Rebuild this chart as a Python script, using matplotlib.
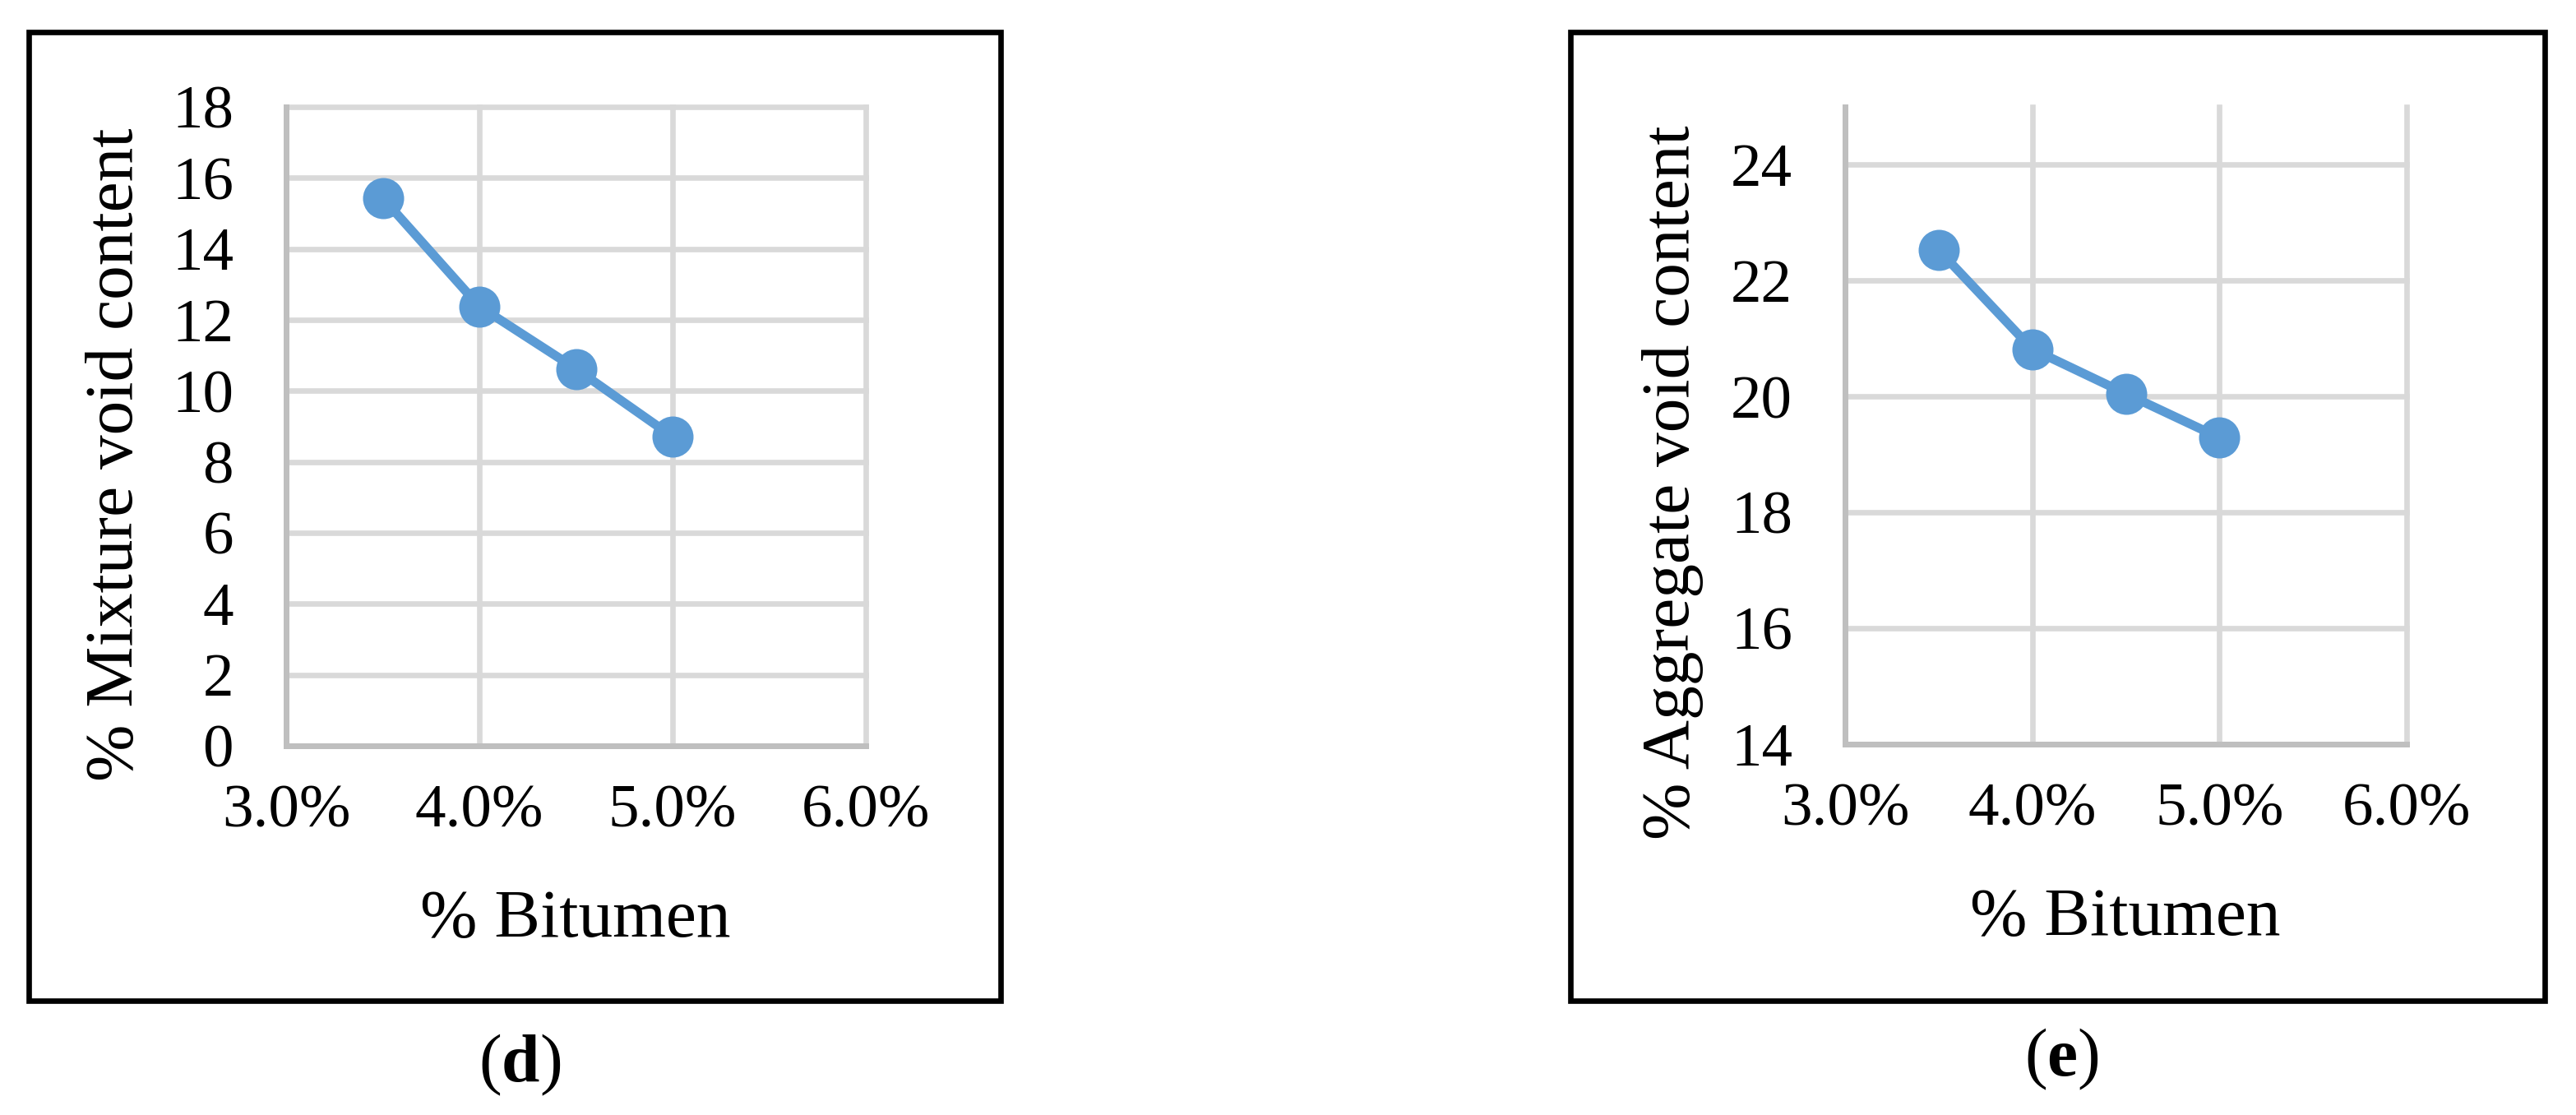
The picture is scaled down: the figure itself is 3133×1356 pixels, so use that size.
import matplotlib.pyplot as plt
from matplotlib.patches import Rectangle
from matplotlib.ticker import PercentFormatter

plt.rcParams['font.family'] = ['Liberation Serif', 'DejaVu Serif']
plt.rcParams['mathtext.fontset'] = 'custom'
plt.rcParams['mathtext.rm'] = 'Liberation Serif'
plt.rcParams['mathtext.bf'] = 'Liberation Serif:bold'

# data
bitumen = [0.035, 0.040, 0.045, 0.050]
mixture_void = [15.43, 12.38, 10.62, 8.71]
aggregate_void = [22.53, 20.82, 20.05, 19.29]

x_ticks = [0.03, 0.04, 0.05, 0.06]
mix_ticks = list(range(0, 19, 2))
agg_ticks = list(range(14, 25, 2))

blue = '#5B9BD5'
grid_c = '#D9D9D9'
axis_c = '#BFBFBF'

W, H = 3133, 1356
fig = plt.figure(figsize=(W / 100, H / 100), dpi=100)


def px_box(x0, y0, x1, y1):
    # pixel coords (top-left origin) -> figure fraction rect
    return [x0 / W, 1 - y1 / H, (x1 - x0) / W, (y1 - y0) / H]


def panel(rect, y, yticks, ylim, ylabel, ylab_xy, xlab_xy, tag, tag_xy, frame):
    ax = fig.add_axes(px_box(*rect))
    ax.plot(bitumen, y, color=blue, lw=8, marker='o', ms=36,
            markeredgewidth=0, solid_capstyle='round', zorder=3)
    ax.set_xlim(0.03, 0.06)
    ax.set_ylim(*ylim)
    ax.set_xticks(x_ticks)
    ax.set_yticks(yticks)
    ax.xaxis.set_major_formatter(PercentFormatter(xmax=1, decimals=1))
    ax.tick_params(length=0, labelsize=54, pad=46)
    ax.tick_params(axis='x', pad=34)
    ax.grid(True, color=grid_c, lw=4.8)
    for gl in ax.get_xgridlines() + ax.get_ygridlines():
        gl.set_clip_on(False)
    ax.set_axisbelow(True)
    for s in ['top', 'right']:
        ax.spines[s].set_visible(False)
    for s in ['left', 'bottom']:
        ax.spines[s].set_color(axis_c)
        ax.spines[s].set_linewidth(5)
        ax.spines[s].set_zorder(2.5)

    fig.text(ylab_xy[0] / W, 1 - ylab_xy[1] / H, ylabel, rotation=90,
             ha='center', va='center', fontsize=60)
    fig.text(xlab_xy[0] / W, 1 - xlab_xy[1] / H, '% Bitumen',
             ha='center', va='baseline', fontsize=60)
    fig.text(tag_xy[0] / W, 1 - tag_xy[1] / H, r'($\mathbf{%s}$)' % tag,
             ha='center', va='center', fontsize=60)

    fx = px_box(*frame)
    fig.patches.append(Rectangle((fx[0], fx[1]), fx[2], fx[3], transform=fig.transFigure,
                                 fill=False, edgecolor='black', lw=4.8))
    return ax


panel((348, 130, 1053, 907), mixture_void, mix_ticks, (0, 18),
      '% Mixture void content', (141, 553), (700, 1139), 'd', (632, 1295),
      (35, 39, 1217, 1217))
panel((2244, 130, 2927, 905), aggregate_void, agg_ticks, (14, 25),
      '% Aggregate void content', (2034, 587), (2585, 1137), 'e', (2507, 1288),
      (1910, 39, 3095, 1217))

fig.savefig('out.png', dpi=100, facecolor='white')
plt.close(fig)
